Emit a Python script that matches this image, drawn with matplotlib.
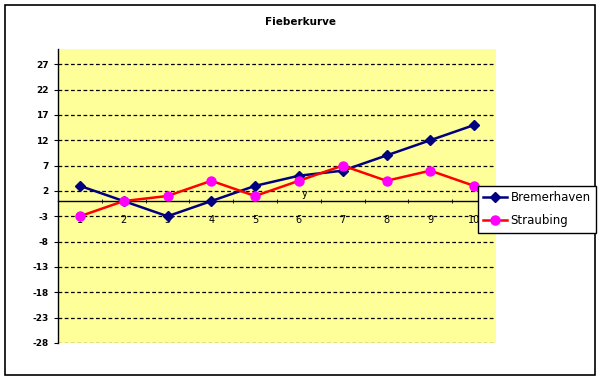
import numpy as np
import matplotlib.pyplot as plt
from matplotlib.patches import Rectangle

# data
tage = [1, 2, 3, 4, 5, 6, 7, 8, 9, 10]
bremerhaven = [3, 0, -3, 0, 3, 5, 6, 9, 12, 15]
straubing = [-3, 0, 1, 4, 1, 4, 7, 4, 6, 3]
yticks = [-28, -23, -18, -13, -8, -3, 2, 7, 12, 17, 22, 27]

W, H = 601, 379
fig = plt.figure(figsize=(W/100, H/100), dpi=100)
fig.patch.set_facecolor('white')

# outer frame
fig.patches.append(Rectangle((5/W, 1 - 375/H), 590/W, 370/H, transform=fig.transFigure,
                             fill=False, edgecolor='black', linewidth=1.2))

ax = fig.add_axes([58/W, 1 - 343/H, 438/W, 294/H])
ax.set_facecolor('#FFFF99')
ax.set_xlim(0.5, 10.5)
ax.set_ylim(-28, 30)

for y in yticks:
    ax.axhline(y, color='black', linestyle=(0, (3, 2)), linewidth=0.9, zorder=1)

ax.plot(tage, bremerhaven, color='#000080', marker='D', markersize=5.5, linewidth=1.8,
        label='Bremerhaven', zorder=3)
ax.plot(tage, straubing, color='#FF0000', marker='o', markersize=6.5, linewidth=1.8,
        markerfacecolor='#FF00FF', markeredgecolor='#FF00FF', label='Straubing', zorder=3)

for s in ['top', 'right']:
    ax.spines[s].set_visible(False)
ax.spines['bottom'].set_position(('data', 0))
ax.spines['left'].set_linewidth(1)
ax.spines['bottom'].set_linewidth(1)

ax.set_yticks(yticks)
ax.set_yticklabels([str(v) for v in yticks], fontsize=6.5, fontweight='bold')
ax.set_xticks(tage)
ax.set_xticklabels([str(v) for v in tage], fontsize=7)
ax.tick_params(axis='x', length=0, pad=10)
ax.set_xticks(np.arange(1.5, 10.5, 1), minor=True)
ax.tick_params(axis='x', which='minor', length=3, direction='inout')
ax.tick_params(axis='y', length=3, direction='out')
ax.text(6.14, 0.5, 'y', fontsize=7, ha='center', va='bottom')

fig.text(300/W, 1 - 22/H, 'Fieberkurve', fontsize=7.5, fontweight='bold', ha='center', va='center')

leg = fig.legend(loc='upper left', bbox_to_anchor=(478/W, 1 - 186/H), fontsize=8.5,
                 frameon=True, fancybox=False, edgecolor='black', framealpha=1,
                 handlelength=2.0, borderpad=0.45, labelspacing=0.85, handletextpad=0.3,
                 borderaxespad=0)
leg.get_frame().set_linewidth(1)

fig.savefig('out.png', dpi=100)
